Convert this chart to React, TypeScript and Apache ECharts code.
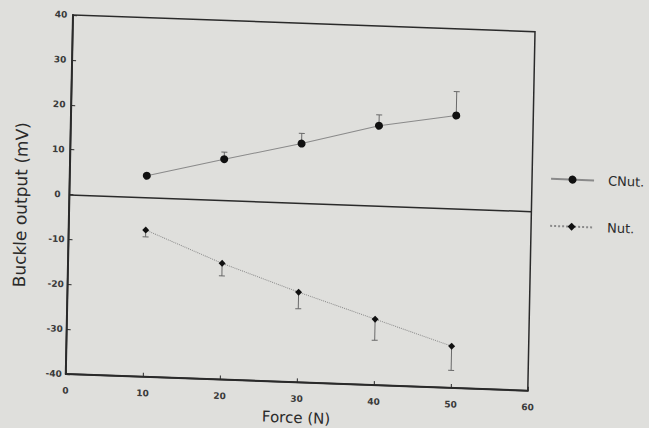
import React, { useEffect, useRef } from "react";
import * as echarts from "echarts";

// ---- data ----
const forces = [10, 20, 30, 40, 50];
const cnutValues = [4.8, 9.1, 13.2, 17.8, 20.7];
const cnutErrors = [0.5, 1.6, 2.3, 2.4, 5.3];
const nutValues = [-7.3, -14.1, -19.9, -25.3, -30.7];
const nutErrors = [1.5, 2.8, 3.7, 4.7, 5.4];
const xRange = [0, 60];
const yRange = [-40, 40];
const tickStep = 10;
const seriesNames = ["CNut.", "Nut."];
const xTitle = "Force (N)";
const yTitle = "Buckle output (mV)";

const FONT = "DejaVu Sans";

export default function App() {
  const ref = useRef<HTMLDivElement>(null);

  useEffect(() => {
    if (!ref.current) return;
    const chart = echarts.init(ref.current, null, { renderer: "svg" });

    const cnutPts = forces.map((f, i) => [f, cnutValues[i]]);
    const nutPts = forces.map((f, i) => [f, nutValues[i]]);
    const cnutErr = forces.map((f, i) => [f, cnutValues[i], cnutValues[i] + cnutErrors[i]]);
    const nutErr = forces.map((f, i) => [f, nutValues[i], nutValues[i] - nutErrors[i]]);

    const errRender = (_params: any, api: any) => {
      const x = api.value(0);
      const a = api.coord([x, api.value(1)]);
      const b = api.coord([x, api.value(2)]);
      return {
        type: "group",
        children: [
          { type: "line", shape: { x1: a[0], y1: a[1], x2: b[0], y2: b[1] }, style: { stroke: "#6a6a6a", lineWidth: 1 } },
          { type: "line", shape: { x1: b[0] - 3, y1: b[1], x2: b[0] + 3, y2: b[1] }, style: { stroke: "#6a6a6a", lineWidth: 1 } },
        ],
      };
    };

    const labelStyle = { fontFamily: FONT, fontSize: 9, fontWeight: "bold" as const, color: "#3a3a3a" };

    chart.setOption({
      animation: false,
      backgroundColor: "transparent",
      grid: {
        left: 73,
        top: 15,
        width: 462,
        height: 359,
        show: true,
        borderColor: "#2a2a2a",
        borderWidth: 1.5,
        backgroundColor: "transparent",
      },
      legend: {
        orient: "vertical",
        left: 553,
        top: 155,
        padding: 0,
        itemWidth: 43,
        itemHeight: 10,
        itemGap: 34,
        data: seriesNames,
        selectedMode: false,
        textStyle: { fontFamily: FONT, fontSize: 13, color: "#2a2a2a", padding: [0, 0, 0, 9] },
      },
      xAxis: {
        type: "value",
        min: xRange[0],
        max: xRange[1],
        interval: tickStep,
        name: xTitle,
        nameLocation: "middle",
        nameGap: 28,
        nameTextStyle: { fontFamily: FONT, fontSize: 15, color: "#2a2a2a" },
        axisLine: { show: true, onZero: false, lineStyle: { color: "#2a2a2a", width: 2 } },
        axisTick: { show: true, inside: true, length: 4, lineStyle: { color: "#2a2a2a" } },
        axisLabel: { ...labelStyle, margin: 12 },
        splitLine: { show: false },
      },
      yAxis: {
        type: "value",
        min: yRange[0],
        max: yRange[1],
        interval: tickStep,
        name: yTitle,
        nameLocation: "middle",
        nameGap: 40,
        nameRotate: 90,
        nameTextStyle: { fontFamily: FONT, fontSize: 17, color: "#2a2a2a", padding: [0, 24, 0, 0] },
        axisLine: { show: true, onZero: false, lineStyle: { color: "#2a2a2a", width: 2 } },
        axisTick: { show: true, inside: true, length: 4, lineStyle: { color: "#2a2a2a" } },
        axisLabel: { ...labelStyle, margin: 12, align: "center" },
        splitLine: { show: false },
      },
      series: [
        {
          name: "cnutErr",
          type: "custom",
          renderItem: errRender,
          data: cnutErr,
          encode: { x: 0, y: [1, 2] },
          silent: true,
          z: 1,
        },
        {
          name: "nutErr",
          type: "custom",
          renderItem: errRender,
          data: nutErr,
          encode: { x: 0, y: [1, 2] },
          silent: true,
          z: 1,
        },
        {
          name: seriesNames[0],
          type: "line",
          data: cnutPts,
          symbol: "circle",
          symbolSize: 8,
          itemStyle: { color: "#111" },
          lineStyle: { color: "#8a8a8a", width: 1, type: "solid" },
          z: 3,
          markLine: {
            silent: true,
            symbol: "none",
            label: { show: false },
            lineStyle: { color: "#2a2a2a", width: 1.5, type: "solid" },
            data: [{ yAxis: 0 }],
          },
        },
        {
          name: seriesNames[1],
          type: "line",
          data: nutPts,
          symbol: "diamond",
          symbolSize: 7,
          itemStyle: { color: "#111" },
          lineStyle: { color: "#8a8a8a", width: 1, type: "dotted" },
          z: 3,
        },
      ],
    });

    return () => chart.dispose();
  }, []);

  return (
    <div
      style={{
        position: "fixed",
        left: 0,
        top: 0,
        width: 649,
        height: 428,
        background: "#dfdfdc",
        overflow: "hidden",
      }}
    >
      <div
        ref={ref}
        style={{
          position: "absolute",
          left: 0,
          top: 0,
          width: 649,
          height: 428,
          transformOrigin: "73px 15px",
          transform: "matrix(1, 0.0361, -0.0201, 1, 0, 0)",
        }}
      />
    </div>
  );
}
